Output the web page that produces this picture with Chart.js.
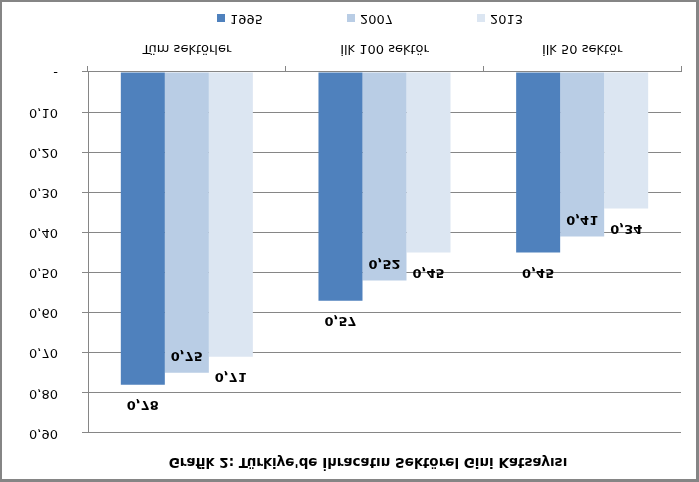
<!DOCTYPE html>
<html>
<head>
<meta charset="utf-8">
<script src="https://cdn.jsdelivr.net/npm/chart.js@4.4.0/dist/chart.umd.min.js"></script>
<style>
  html, body { margin: 0; padding: 0; background: #fff; }
  #marco {
    position: absolute; left: 0; top: 0;
    width: 699px; height: 482px; box-sizing: border-box;
    border-style: solid; border-color: #858585;
    border-width: 2px 3px 3px 2px;
  }
  /* la imagen de referencia esta volteada verticalmente */
  #grafica { display: block; transform: scaleY(-1); }
</style>
</head>
<body>
<div id="marco">
  <canvas id="grafica" width="694" height="477"></canvas>
</div>
<script>
const categorias = ['Tüm sektörler', 'İlk 100 sektör', 'İlk 50 sektör'];
const anios = ['1995', '2007', '2013'];
const valores1995 = [0.78, 0.57, 0.45];
const valores2007 = [0.75, 0.52, 0.41];
const valores2013 = [0.71, 0.45, 0.34];
const etiquetasY = ['-', '0,10', '0,20', '0,30', '0,40', '0,50', '0,60', '0,70', '0,80', '0,90'];
const titulo = "Grafik 2: Türkiye'de İhracatın Sektörel Gini Katsayısı";

const colores = ['#4F81BD', '#B9CDE5', '#DCE6F2'];
const posicionEtiqueta = ['fuera', 'dentro', 'fuera'];
const gris = '#868686';
const fuente = 'DejaVu Sans';

// etiquetas de valores, titulo y leyenda dibujados a mano
const extras = {
    id: 'extras',
    afterDatasetsDraw(chart) {
        const ctx = chart.ctx;
        ctx.save();
        ctx.fillStyle = '#000';
        ctx.textAlign = 'center';
        ctx.textBaseline = 'middle';
        ctx.font = 'bold 13px ' + fuente;
        chart.data.datasets.forEach((ds, i) => {
            const meta = chart.getDatasetMeta(i);
            meta.data.forEach((barra, j) => {
                const texto = ds.data[j].toFixed(2).replace('.', ',');
                const y = posicionEtiqueta[i] === 'fuera' ? barra.y - 20 : barra.y + 17;
                ctx.fillText(texto, barra.x, y);
            });
        });

        // titulo
        ctx.font = 'bold 13.5px ' + fuente;
        ctx.fillText(titulo, 366, 17);

        // leyenda
        ctx.font = '13px ' + fuente;
        ctx.textAlign = 'left';
        const yLeyenda = chart.height - 16;
        chart.data.datasets.forEach((ds, i) => {
            const x = 215 + i * 130;
            ctx.fillStyle = ds.backgroundColor;
            ctx.fillRect(x, yLeyenda - 4, 8, 8);
            ctx.fillStyle = '#000';
            ctx.fillText(ds.label, x + 13, yLeyenda);
        });
        ctx.restore();
    }
};

const ctx = document.getElementById('grafica').getContext('2d');
new Chart(ctx, {
    type: 'bar',
    data: {
        labels: categorias,
        datasets: [
            { label: anios[0], data: valores1995, backgroundColor: colores[0] },
            { label: anios[1], data: valores2007, backgroundColor: colores[1] },
            { label: anios[2], data: valores2013, backgroundColor: colores[2] }
        ]
    },
    options: {
        responsive: false,
        animation: false,
        devicePixelRatio: 1,
        layout: { padding: { top: 46, bottom: 33, right: 15, left: 0 } },
        datasets: {
            bar: { barPercentage: 1, categoryPercentage: 0.668, borderWidth: 0 }
        },
        plugins: {
            legend: { display: false },
            title: { display: false },
            tooltip: { enabled: false }
        },
        scales: {
            x: {
                offset: true,
                grid: { display: true, drawOnChartArea: false, offset: true, color: gris, tickLength: 6 },
                border: { color: gris },
                ticks: { color: '#000', padding: 10, font: { family: fuente, size: 13 } },
                afterFit(escala) { escala.height = 37; }
            },
            y: {
                min: 0,
                max: 0.9,
                grid: { color: gris, tickLength: 6 },
                border: { color: gris },
                ticks: {
                    stepSize: 0.1,
                    color: '#000',
                    padding: 24,
                    font: { family: fuente, size: 13 },
                    callback: (valor, indice) => etiquetasY[indice]
                },
                afterFit(escala) { escala.width = 86; }
            }
        }
    },
    plugins: [extras]
});
</script>
</body>
</html>
